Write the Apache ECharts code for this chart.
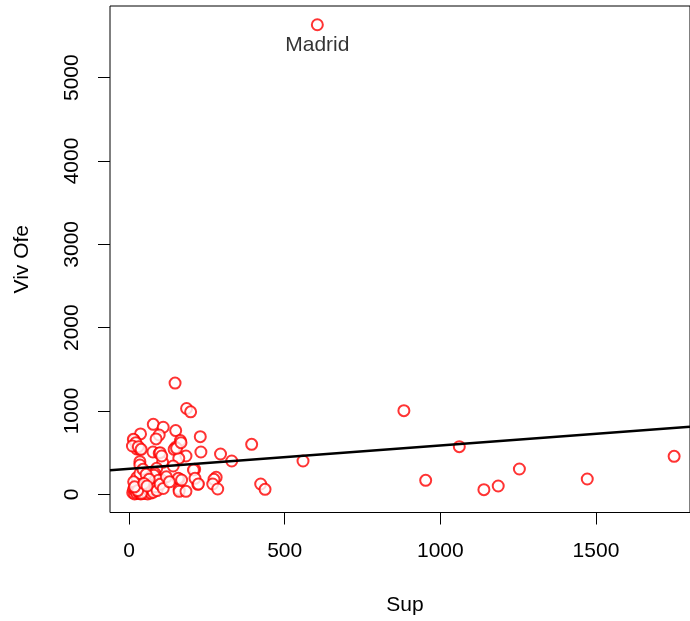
<!DOCTYPE html>
<html>
<head>
<meta charset="utf-8">
<script src="https://cdn.jsdelivr.net/npm/echarts@6/dist/echarts.min.js"></script>
<style>
html,body{margin:0;padding:0;background:#fff;}
#chart{width:690px;height:621px;}
</style>
</head>
<body>
<div id="chart"></div>
<script>
// Scatter values: Sup (x) and Viv Ofe (y)
var supValues = [
  148,185,198,78,110,37,97,87,150,229,165,17,394,150,145,231,294,77,97,25,35,183,160,330,108,35,35,211,142,89,
  161,280,273,269,221,285,161,161,183,423,437,559,
  883,1061,953,1140,1186,1254,1472,1751,
  14,22,11,30,39,100,105,153,167,207,158,169,212,223,83,105,
  12,15,18,20,22,25,28,30,32,35,38,40,42,45,48,50,52,55,58,60,62,65,68,70,72,75,78,80,85,90,95,100,110,120,130,25,35,15,45,55,65,40,28,18,48,58
];
var vivOfeValues = [
  1335,1030,990,840,805,725,712,665,765,692,645,652,600,565,540,508,484,508,492,544,540,460,432,400,384,392,352,300,340,312,
  184,204,180,124,120,64,60,36,36,124,60,400,
  1004,572,168,56,100,304,184,456,
  660,620,580,572,540,500,460,552,620,292,192,172,192,124,252,172,
  20,60,5,100,35,10,70,140,15,45,5,90,25,170,55,10,120,30,80,5,200,40,110,15,60,150,25,230,90,45,170,120,70,210,150,200,250,150,300,240,180,12,45,90,130,100
];
var outlierName = ['Madrid'];
var outlierSup = [605];
var outlierVivOfe = [5635];

// Fitted regression line (intercept, slope)
var regIntercept = 305;
var regSlope = 0.281;

var xTicks = [0, 500, 1000, 1500];
var yTicks = [0, 1000, 2000, 3000, 4000, 5000];
var xRange = [-61, 1802];
var yRange = [-218, 5860];

var points = supValues.map(function (s, i) { return [s, vivOfeValues[i]]; });
var outliers = outlierSup.map(function (s, i) { return {name: outlierName[i], value: [s, outlierVivOfe[i]]}; });
var regLine = xRange.map(function (x) { return [x, regIntercept + regSlope * x]; });

var FONT = '"Liberation Sans", Arial, sans-serif';
var FS = 21;
var chart = echarts.init(document.getElementById('chart'), null, {renderer: 'canvas'});
chart.setOption({
  animation: false,
  backgroundColor: '#ffffff',
  grid: {left: 110, top: 6, right: 0, bottom: 108.5, show: true, borderColor: '#000', borderWidth: 1, backgroundColor: 'transparent'},
  xAxis: {
    type: 'value', min: xRange[0], max: xRange[1],
    name: 'Sup', nameLocation: 'middle', nameGap: 82,
    nameTextStyle: {fontFamily: FONT, fontSize: FS, color: '#000', padding: [0, 0, 0, 10]},
    axisLine: {show: false, onZero: false},
    axisTick: {show: true, inside: false, length: 12, customValues: xTicks, lineStyle: {color: '#000', width: 1}},
    axisLabel: {customValues: xTicks, margin: 28, fontFamily: FONT, fontSize: FS, color: '#000', formatter: function (v) { return String(v); }},
    splitLine: {show: false}
  },
  yAxis: {
    type: 'value', min: yRange[0], max: yRange[1],
    name: 'Viv Ofe', nameLocation: 'middle', nameGap: 77, nameRotate: 90,
    nameTextStyle: {fontFamily: FONT, fontSize: FS, color: '#000'},
    axisLine: {show: false, onZero: false},
    axisTick: {show: true, inside: false, length: 12, customValues: yTicks, lineStyle: {color: '#000', width: 1}},
    axisLabel: {customValues: yTicks, rotate: 90, margin: 27, fontFamily: FONT, fontSize: FS, color: '#000', formatter: function (v) { return String(v); }},
    splitLine: {show: false}
  },
  series: [
    {
      type: 'scatter', data: points, symbol: 'emptyCircle', symbolSize: 11,
      itemStyle: {color: '#ff0000', borderColor: '#ff0000', borderWidth: 1},
      emphasis: {disabled: true},
      z: 3
    },
    {
      type: 'scatter', data: outliers, symbol: 'emptyCircle', symbolSize: 11,
      itemStyle: {color: '#ff0000', borderColor: '#ff0000', borderWidth: 1},
      emphasis: {disabled: true},
      label: {show: true, position: 'bottom', distance: 3, formatter: '{b}', fontFamily: FONT, fontSize: FS, color: '#000', textBorderWidth: 0},
      z: 3
    },
    {
      type: 'line', data: regLine, symbol: 'none', silent: true,
      lineStyle: {color: '#000', width: 2.5}, z: 4
    }
  ]
});
</script>
</body>
</html>
